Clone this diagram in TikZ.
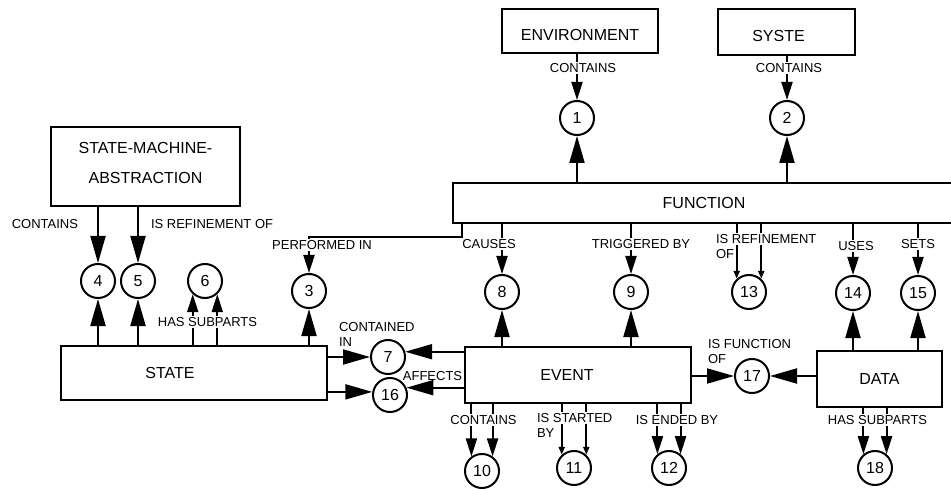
\documentclass[tikz,border=0pt]{standalone}
\usepackage{fontspec}
\setmainfont{Liberation Sans}
\usetikzlibrary{arrows.meta}

\begin{document}
\begin{tikzpicture}[x=1pt,y=-1pt,line width=2pt,font=\fontsize{16}{30}\selectfont,
		box/.style={draw,rectangle,inner sep=0pt},
		circ/.style={draw,circle,minimum size=34pt,inner sep=0pt},
		lbl/.style={inner sep=1pt,font=\fontsize{13}{15}\selectfont},
		onlbl/.style={lbl,fill=white},
		bigarrow/.style={-{Triangle[length=27pt,width=15pt]}},
		midarrow/.style={-{Triangle[length=18pt,width=11pt]}},
		tinyarrow/.style={-{Triangle[length=8pt,width=6pt]}}]
			\useasboundingbox (0,0) rectangle (951,489);
			\node[box,minimum width=156pt,minimum height=44pt,label={[yshift=-4pt]center:ENVIRONMENT}] (env) at (580,31) {};
			\node[box,minimum width=137pt,minimum height=46pt,label={[xshift=-8pt,yshift=-4pt]center:SYSTE}] (sys) at (786.5,32) {};
			\node[box,minimum width=189pt,minimum height=79pt,label={[align=center,yshift=4pt]center:STATE-MACHINE-\\ABSTRACTION}] (sma) at (145.5,166.5) {};
			\node[box,minimum width=502pt,minimum height=40pt] (func) at (704,203) {FUNCTION};
			\node[box,minimum width=266pt,minimum height=54pt,label={[xshift=-24pt]center:STATE}] (state) at (194,373) {};
			\node[box,minimum width=226pt,minimum height=56pt,label={[xshift=-11pt]center:EVENT}] (event) at (578,375) {};
			\node[box,minimum width=125pt,minimum height=56pt] (data) at (879.5,379) {DATA};
			\foreach \n/\x/\y in {1/577/118,2/787/118,3/309/291,4/98/281,5/138/281,6/205/281,7/388/357,8/502/292,9/631/292,10/482/471,11/574/468,12/669/468,13/749/292,14/853/293,15/918/293,16/390/395,17/752/376,18/875/468}
				\node[circ] (c\n) at (\x,\y) {\n};
			\foreach \n in {1,2}
				\draw[bigarrow] (c\n.south |- func.north) -- (c\n.south);
			\draw[midarrow] (c1.north |- env.south) -- (c1.north);
			\draw[midarrow] (c2.north |- sys.south) -- (c2.north);
			\foreach \n in {4,5}
				\draw[bigarrow] (c\n.north |- sma.south) -- (c\n.north);
			\foreach \n in {3,4,5}
				\draw[bigarrow] (c\n.south |- state.north) -- (c\n.south);
			\foreach \a in {227,313}
				\draw[midarrow] (c6.\a |- state.north) -- (c6.\a);
			\coordinate (bend) at (462,237);
			\draw[midarrow] (bend |- func.south) -- (bend) -| (c3.north);
			\foreach \n in {8,9,14,15}
				\draw[midarrow] (c\n.north |- func.south) -- (c\n.north);
			\foreach \a in {133,47}
				\draw[tinyarrow] (c13.\a |- func.south) -- (c13.\a);
			\foreach \n in {8,9}
				\draw[bigarrow] (c\n.south |- event.north) -- (c\n.south);
			\foreach \a in {126,54}
				\draw[midarrow] (c10.\a |- event.south) -- (c10.\a);
			\foreach \a in {133,47}
				\draw[tinyarrow] (c11.\a |- event.south) -- (c11.\a);
			\foreach \a in {130,50}
				\draw[midarrow] (c12.\a |- event.south) -- (c12.\a);
			\draw[bigarrow] (state.east |- c7.west) -- (c7.west);
			\draw[bigarrow] (state.east |- c16.170) -- (c16.170);
			\draw[bigarrow] (event.west |- c7.17) -- (c7.17);
			\draw[bigarrow] (event.west |- c16.24) -- (c16.24);
			\draw[bigarrow] (event.east |- c17.west) -- (c17.west);
			\draw[bigarrow] (data.west |- c17.east) -- (c17.east);
			\foreach \n in {14,15}
				\draw[bigarrow] (c\n.south |- data.north) -- (c\n.south);
			\foreach \a in {130,50}
				\draw[midarrow] (c18.\a |- data.south) -- (c18.\a);
			\node[onlbl] (lenv) at (583,68) {CONTAINS};
			\node[onlbl] (lsys) at (789,68) {CONTAINS};
			\node[lbl,anchor=east] (lsma) at (80,224) {CONTAINS};
			\node[lbl,anchor=west] (lsmaref) at (149,224) {IS REFINEMENT OF};
			\node[onlbl] (lperf) at (322,245) {PERFORMED IN};
			\node[onlbl] (lcause) at (489,244) {CAUSES};
			\node[onlbl] (ltrig) at (641,244) {TRIGGERED BY};
			\node[onlbl,anchor=west] (lref) at (714,239) {IS REFINEMENT};
			\node[onlbl,anchor=west] (lrefof) at (714,254) {OF};
			\node[onlbl] (luses) at (856,246) {USES};
			\node[onlbl] (lsets) at (918,244) {SETS};
			\node[onlbl] (lsub) at (207.5,322) {HAS SUBPARTS};
			\node[lbl,anchor=west,align=left] (lcont) at (337,334.5) {CONTAINED\\IN};
			\node[lbl] (laff) at (432.5,376) {AFFECTS};
			\node[lbl,anchor=west,align=left] (lfun) at (706,352) {IS FUNCTION\\OF};
			\node[onlbl] (lecont) at (483.5,420) {CONTAINS};
			\node[onlbl,anchor=west] (lstart) at (535,418) {IS STARTED};
			\node[onlbl,anchor=west] (lby) at (535,433) {BY};
			\node[onlbl] (lend) at (677,420) {IS ENDED BY};
			\node[onlbl] (ldsub) at (877.5,420) {HAS SUBPARTS};
		\end{tikzpicture}
\end{document}
